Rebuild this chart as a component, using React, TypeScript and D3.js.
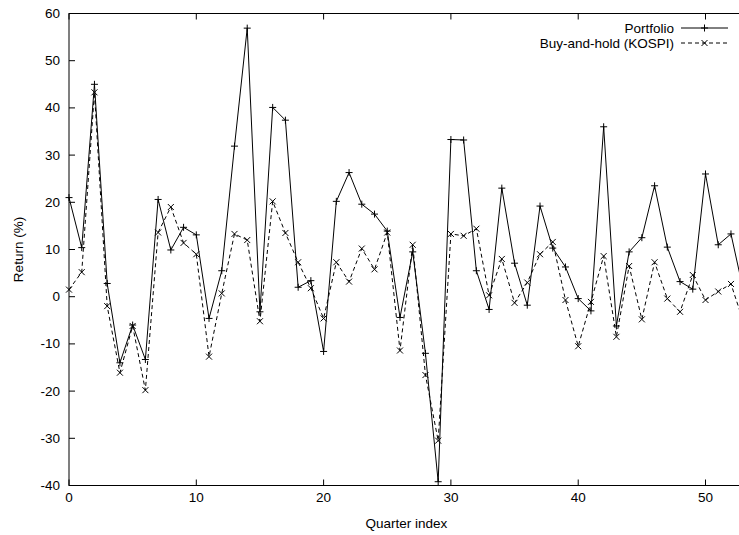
import React from "react";
import * as d3 from "d3";

const quarters: number[] = d3.range(0, 54);
const portfolio: number[] = [
  21.0, 10.4, 45.0, 2.8, -14.0, -6.0, -13.3, 20.6, 9.9, 14.7,
  13.1, -4.6, 5.5, 31.9, 56.9, -3.2, 40.1, 37.4, 2.0, 3.4,
  -11.6, 20.2, 26.3, 19.6, 17.5, 13.9, -4.4, 9.5, -12.0, -39.2,
  33.3, 33.2, 5.5, -2.7, 23.0, 7.1, -1.8, 19.2, 10.3, 6.3,
  -0.4, -3.0, 36.0, -6.2, 9.5, 12.5, 23.5, 10.5, 3.2, 1.6,
  26.0, 11.0, 13.3, 1.0,
];
const kospi: number[] = [
  1.5, 5.2, 43.3, -2.0, -16.1, -6.2, -19.8, 13.6, 19.0, 11.4,
  9.0, -12.7, 0.7, 13.3, 12.0, -5.2, 20.2, 13.5, 7.3, 1.8,
  -4.6, 7.3, 3.2, 10.2, 5.8, 13.6, -11.4, 11.0, -16.6, -30.5,
  13.3, 12.9, 14.4, 0.3, 8.0, -1.3, 3.0, 9.0, 11.6, -0.7,
  -10.5, -1.1, 8.6, -8.5, 6.5, -4.8, 7.3, -0.4, -3.2, 4.6,
  -0.7, 1.1, 2.7, -5.5,
];
const xTicks: number[] = [0, 10, 20, 30, 40, 50];
const yTicks: number[] = [-40, -30, -20, -10, 0, 10, 20, 30, 40, 50, 60];
const seriesNames: string[] = ["Portfolio", "Buy-and-hold (KOSPI)"];

const W = 739;
const H = 535;
const left = 69;
const right = 743.7;
const top = 13.5;
const bottom = 485.5;
const FONT = "'Liberation Sans', Arial, Helvetica, sans-serif";
const FS = 13.5;

export default function App() {
  const x = d3.scaleLinear().domain([0, 53]).range([left, right]);
  const y = d3.scaleLinear().domain([-40, 60]).range([bottom, top]);
  const line = d3
    .line<number>()
    .x((_, i) => x(quarters[i]))
    .y((d) => y(d));

  const plus = (cx: number, cy: number, k: string) => (
    <path key={k} d={`M${cx - 3.5},${cy}H${cx + 3.5}M${cx},${cy - 3.5}V${cy + 3.5}`} stroke="#000" strokeWidth={1} />
  );
  const cross = (cx: number, cy: number, k: string) => (
    <path key={k} d={`M${cx - 3},${cy - 3}L${cx + 3},${cy + 3}M${cx - 3},${cy + 3}L${cx + 3},${cy - 3}`} stroke="#000" strokeWidth={1} />
  );

  const legendX = 674;
  const lx1 = 681;
  const lx2 = 728;
  const lmid = (lx1 + lx2) / 2;
  const ly1 = 28;
  const ly2 = 43;

  return (
    <svg width={W} height={H} style={{ position: "absolute", left: 0, top: 0, background: "#fff" }} fontFamily={FONT}>
      <rect x={0} y={0} width={W} height={H} fill="#fff" />
      {xTicks.map((t) => (
        <g key={"xt" + t}>
          <line x1={x(t)} x2={x(t)} y1={bottom} y2={bottom - 6} stroke="#000" />
          <line x1={x(t)} x2={x(t)} y1={top} y2={top + 6} stroke="#000" />
          <text x={x(t)} y={bottom + 12} fontSize={FS} textAnchor="middle" dominantBaseline="central">
            {t}
          </text>
        </g>
      ))}
      {yTicks.map((t) => (
        <g key={"yt" + t}>
          <line x1={left} x2={left + 6} y1={y(t)} y2={y(t)} stroke="#000" />
          <text x={left - 9} y={y(t)} fontSize={FS} textAnchor="end" dominantBaseline="central">
            {t}
          </text>
        </g>
      ))}
      <rect x={left} y={top} width={right - left} height={bottom - top} fill="none" stroke="#000" strokeWidth={1} />
      <path d={line(portfolio) || ""} fill="none" stroke="#000" strokeWidth={1} />
      <path d={line(kospi) || ""} fill="none" stroke="#000" strokeWidth={1} strokeDasharray="4,3" />
      {portfolio.map((v, i) => plus(x(quarters[i]), y(v), "p" + i))}
      {kospi.map((v, i) => cross(x(quarters[i]), y(v), "k" + i))}
      <text x={legendX} y={ly1} fontSize={FS} textAnchor="end" dominantBaseline="central">
        {seriesNames[0]}
      </text>
      <line x1={lx1} x2={lx2} y1={ly1} y2={ly1} stroke="#000" />
      {plus(lmid, ly1, "lp")}
      <text x={legendX} y={ly2} fontSize={FS} textAnchor="end" dominantBaseline="central">
        {seriesNames[1]}
      </text>
      <line x1={lx1} x2={lx2} y1={ly2} y2={ly2} stroke="#000" strokeDasharray="4,3" />
      {cross(lmid, ly2, "lk")}
      <text x={(left + right) / 2} y={523} fontSize={FS} textAnchor="middle" dominantBaseline="central">
        Quarter index
      </text>
      <text
        transform={`translate(18,${(top + bottom) / 2}) rotate(-90)`}
        fontSize={FS}
        textAnchor="middle"
        dominantBaseline="central"
      >
        Return (%)
      </text>
    </svg>
  );
}
